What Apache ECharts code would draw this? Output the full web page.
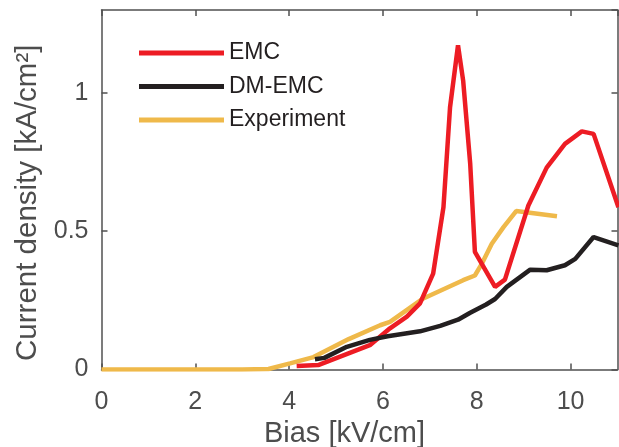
<!DOCTYPE html>
<html>
<head>
<meta charset="utf-8">
<script src="https://cdn.jsdelivr.net/npm/echarts@6/dist/echarts.min.js"></script>
<style>
  html, body { margin: 0; padding: 0; background: #fff; }
  #chart { width: 619px; height: 447px; }
</style>
</head>
<body>
<div id="chart"></div>
<script>
// Current density vs. bias: [bias kV/cm, current density kA/cm^2]
const emc = [
  [4.16, 0.013], [4.62, 0.016], [5.72, 0.088], [6.15, 0.149], [6.51, 0.191],
  [6.79, 0.239], [7.07, 0.347], [7.29, 0.587], [7.43, 0.948], [7.6, 1.172],
  [7.71, 1.044], [7.86, 0.744], [7.96, 0.425], [8.39, 0.299], [8.6, 0.325],
  [9.1, 0.593], [9.49, 0.73], [9.88, 0.816], [10.24, 0.861], [10.49, 0.852],
  [11.02, 0.587]
];
const dmEmc = [
  [4.55, 0.037], [4.75, 0.042], [5.23, 0.082], [5.72, 0.107], [6.1, 0.12],
  [6.79, 0.138], [7.22, 0.158], [7.6, 0.18], [7.86, 0.205], [8.2, 0.235],
  [8.39, 0.255], [8.64, 0.299], [9.14, 0.361], [9.49, 0.359], [9.88, 0.377],
  [10.1, 0.4], [10.49, 0.479], [11.02, 0.449]
];
const experiment = [
  [0, 0], [1, 0], [2, 0], [3, 0], [3.56, 0.002], [4.02, 0.022], [4.52, 0.045],
  [5.27, 0.11], [5.94, 0.16], [6.15, 0.172], [6.86, 0.257], [7.71, 0.323],
  [7.96, 0.34], [8.1, 0.38], [8.32, 0.455], [8.57, 0.515], [8.84, 0.573],
  [9.71, 0.554]
];
const seriesNames = ['EMC', 'DM-EMC', 'Experiment'];
const xTitle = 'Bias [kV/cm]';
const yTitle = 'Current density [kA/cm\u00B2]';

const axisGray = '#505050';
const font = 'Liberation Sans, Arial, Helvetica, sans-serif';

function frameAxis(pos, isX) {
  return {
    type: 'value', position: pos, min: 0,
    max: isX ? 11 : 1.3, interval: isX ? 2 : 0.5,
    axisLine: { show: true, onZero: false, lineStyle: { color: axisGray, width: 1.5 } },
    axisTick: { show: true, inside: true, length: 6, lineStyle: { color: axisGray, width: 1.5 } },
    axisLabel: { show: false },
    splitLine: { show: false }
  };
}

const chart = echarts.init(document.getElementById('chart'), null, { renderer: 'canvas' });
chart.setOption({
  animation: false,
  backgroundColor: '#ffffff',
  grid: { left: 101.5, right: 1.5, top: 10, bottom: 77.5, containLabel: false, outerBoundsMode: 'none' },
  legend: {
    data: seriesNames,
    orient: 'vertical',
    left: 139, top: 41, padding: 0,
    icon: 'rect', itemWidth: 85, itemHeight: 5,
    itemGap: 9.5,
    textStyle: { fontFamily: font, fontSize: 23, color: '#231f20', lineHeight: 24 }
  },
  xAxis: [{
    type: 'value', min: 0, max: 11, interval: 2,
    name: xTitle, nameLocation: 'middle', nameGap: 49,
    nameTextStyle: { fontFamily: font, fontSize: 29, color: '#4d4d4d', padding: [0, 30, 0, 0] },
    axisLine: { show: true, onZero: false, lineStyle: { color: axisGray, width: 1.5 } },
    axisTick: { show: true, inside: true, length: 6, lineStyle: { color: axisGray, width: 1.5 } },
    axisLabel: { fontFamily: font, fontSize: 25, color: '#4d4d4d', margin: 20, showMaxLabel: false },
    splitLine: { show: false }
  }, frameAxis('top', true)],
  yAxis: [{
    type: 'value', min: 0, max: 1.3, interval: 0.5,
    name: yTitle, nameLocation: 'middle', nameRotate: 90, nameGap: 58,
    nameTextStyle: { fontFamily: font, fontSize: 29.5, color: '#4d4d4d', padding: [0, 26, 0, 0] },
    axisLine: { show: true, onZero: false, lineStyle: { color: axisGray, width: 1.5 } },
    axisTick: { show: true, inside: true, length: 6, lineStyle: { color: axisGray, width: 1.5 } },
    axisLabel: { fontFamily: font, fontSize: 25, color: '#4d4d4d', margin: 13, showMaxLabel: false },
    splitLine: { show: false }
  }, frameAxis('right', false)],
  series: [
    {
      name: 'Experiment', type: 'line', data: experiment, symbol: 'none',
      color: '#efb94a', lineStyle: { width: 4.5, color: '#efb94a' }, z: 2
    },
    {
      name: 'EMC', type: 'line', data: emc, symbol: 'none',
      color: '#ed1c24', lineStyle: { width: 4.5, color: '#ed1c24' }, z: 3
    },
    {
      name: 'DM-EMC', type: 'line', data: dmEmc, symbol: 'none',
      color: '#231f20', lineStyle: { width: 4.5, color: '#231f20' }, z: 4
    }
  ]
});
</script>
</body>
</html>
